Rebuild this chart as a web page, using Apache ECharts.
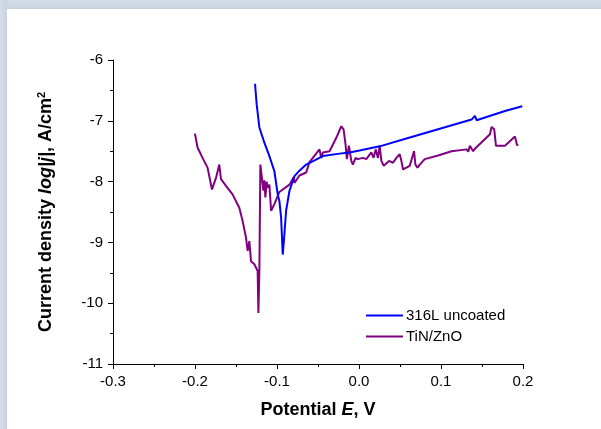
<!DOCTYPE html>
<html>
<head>
<meta charset="utf-8">
<script src="https://cdn.jsdelivr.net/npm/echarts@6/dist/echarts.min.js"></script>
<style>
html,body{margin:0;padding:0;background:#fff;}
#chart{width:601px;height:429px;}
</style>
</head>
<body>
<div id="chart"></div>
<script>
// Tick labels
var xTicks = [-0.3, -0.2, -0.1, 0.0, 0.1, 0.2];
var yTicks = [-11, -10, -9, -8, -7, -6];

// 316L uncoated: potential E (V) and log|j|
var uncoatedE = [-0.1268,-0.1248,-0.1215,-0.1154,-0.1093,-0.1032,-0.0991,-0.0971,-0.0950,-0.0930,-0.0910,-0.0889,-0.0848,-0.0787,-0.0726,-0.0644,-0.0441,-0.0237,-0.0115,0.0007,0.0252,0.0557,0.0965,0.1373,0.1413,0.1434,0.1780,0.1991];
var uncoatedJ = [-6.39,-6.73,-7.11,-7.36,-7.58,-7.83,-8.21,-8.32,-8.59,-9.20,-8.87,-8.48,-8.15,-7.91,-7.82,-7.72,-7.58,-7.54,-7.52,-7.49,-7.42,-7.30,-7.14,-6.98,-6.92,-6.99,-6.84,-6.76];

// TiN/ZnO
var coatedE = [-0.2001,-0.1969,-0.1908,-0.1847,-0.1793,-0.1744,-0.1704,-0.1683,-0.1622,-0.1542,-0.1460,-0.1419,-0.1378,-0.1358,-0.1337,-0.1317,-0.1276,-0.1236,-0.1227,-0.1215,-0.1203,-0.1182,-0.1166,-0.1154,-0.1142,-0.1126,-0.1114,-0.1093,-0.1072,-0.1053,-0.1032,-0.0971,-0.0848,-0.0797,-0.0787,-0.0767,-0.0726,-0.0644,-0.0604,-0.0482,-0.0461,-0.0441,-0.0359,-0.0277,-0.0216,-0.0188,-0.0164,-0.0148,-0.0123,-0.0094,-0.0075,-0.0042,-0.0013,0.0048,0.0089,0.0150,0.0178,0.0203,0.0231,0.0252,0.0273,0.0301,0.0325,0.0366,0.0414,0.0456,0.0496,0.0517,0.0537,0.0578,0.0619,0.0671,0.0688,0.0713,0.0741,0.0802,0.0965,0.1128,0.1312,0.1332,0.1352,0.1392,0.1413,0.1597,0.1617,0.1649,0.1670,0.1691,0.1780,0.1902,0.1927,0.1943,0.2000];
var coatedJ = [-7.21,-7.44,-7.61,-7.77,-8.13,-7.94,-7.72,-7.96,-8.07,-8.21,-8.43,-8.65,-8.92,-9.14,-8.98,-9.31,-9.36,-9.47,-10.16,-9.47,-7.72,-7.74,-8.15,-7.98,-8.26,-8.00,-8.10,-8.05,-8.48,-8.51,-8.37,-8.17,-8.05,-7.93,-8.02,-7.99,-7.90,-7.85,-7.68,-7.47,-7.61,-7.52,-7.50,-7.28,-7.09,-7.14,-7.39,-7.63,-7.41,-7.66,-7.72,-7.61,-7.63,-7.61,-7.63,-7.52,-7.61,-7.47,-7.61,-7.41,-7.66,-7.74,-7.77,-7.66,-7.69,-7.61,-7.55,-7.66,-7.80,-7.77,-7.74,-7.50,-7.72,-7.77,-7.72,-7.63,-7.57,-7.50,-7.47,-7.51,-7.41,-7.50,-7.46,-7.22,-7.10,-7.14,-7.41,-7.41,-7.41,-7.26,-7.40,-7.40];

function zip(a, b){ return a.map(function(v,i){ return [v, b[i]]; }); }

var FONT = 'Arial, "Liberation Sans", sans-serif';
var chart = echarts.init(document.getElementById('chart'), null, {renderer:'canvas'});
chart.setOption({
  animation: false,
  backgroundColor: '#ffffff',
  textStyle: {fontFamily: FONT, color: '#000'},
  graphic: [
    {type:'rect', left:0, top:0, shape:{width:601, height:9}, z:100,
     style:{fill: new echarts.graphic.LinearGradient(0,0,0,1,[{offset:0,color:'#d5dde9'},{offset:1,color:'#c8d1df'}])}},
    {type:'rect', left:0, top:0, shape:{width:7, height:429}, z:100,
     style:{fill: new echarts.graphic.LinearGradient(0,0,1,0,[{offset:0,color:'#d5dde9'},{offset:1,color:'#c8d1df'}])}}
  ],
  grid: {left:113, top:60, right:78, bottom:65, containLabel:false},
  legend: {
    orient:'vertical', left:366, top:308, padding:0, icon:'rect', itemWidth:37, itemHeight:2, itemGap:6,
    textStyle:{fontFamily:FONT, fontSize:15, color:'#000', padding:[0,0,0,-2]},
    data:['316L uncoated','TiN/ZnO']
  },
  xAxis: {
    type:'value', min:xTicks[0], max:xTicks[xTicks.length-1], interval:0.1,
    name:'Potential {i|E}, V', nameLocation:'middle', nameGap:37,
    nameTextStyle:{fontFamily:FONT, fontSize:18, fontWeight:'bold', color:'#000',
      rich:{i:{fontFamily:FONT, fontSize:18, fontWeight:'bold', fontStyle:'italic', color:'#000'}}},
    axisLine:{show:true, onZero:false, lineStyle:{color:'#000', width:1}},
    axisTick:{show:true, inside:false, length:5, lineStyle:{color:'#000'}},
    minorTick:{show:true, splitNumber:2, length:3, lineStyle:{color:'#000'}},
    splitLine:{show:false},
    axisLabel:{fontFamily:FONT, fontSize:15, color:'#000', margin:10,
      formatter:function(v){ return v.toFixed(1); }}
  },
  yAxis: {
    type:'value', min:yTicks[0], max:yTicks[yTicks.length-1], interval:1,
    name:'Current density {i|log|j|}, A/cm{sup|2}', nameLocation:'middle', nameGap:57, nameRotate:90,
    nameTextStyle:{fontFamily:FONT, fontSize:18, fontWeight:'bold', color:'#000',
      rich:{
        i:{fontFamily:FONT, fontSize:18, fontWeight:'bold', fontStyle:'italic', color:'#000'},
        sup:{fontFamily:FONT, fontSize:11, fontWeight:'bold', color:'#000', verticalAlign:'top', padding:[0,0,9,0]}
      }},
    axisLine:{show:true, onZero:false, lineStyle:{color:'#000', width:1}},
    axisTick:{show:true, inside:false, length:5, lineStyle:{color:'#000'}},
    minorTick:{show:true, splitNumber:2, length:3, lineStyle:{color:'#000'}},
    splitLine:{show:false},
    axisLabel:{fontFamily:FONT, fontSize:15, color:'#000', margin:10}
  },
  series: [
    {name:'316L uncoated', type:'line', symbol:'none', data:zip(uncoatedE, uncoatedJ),
     lineStyle:{color:'#0000ff', width:2}, itemStyle:{color:'#0000ff'}, z:3},
    {name:'TiN/ZnO', type:'line', symbol:'none', data:zip(coatedE, coatedJ),
     lineStyle:{color:'#800080', width:2}, itemStyle:{color:'#800080'}, z:2}
  ]
});
</script>
</body>
</html>
